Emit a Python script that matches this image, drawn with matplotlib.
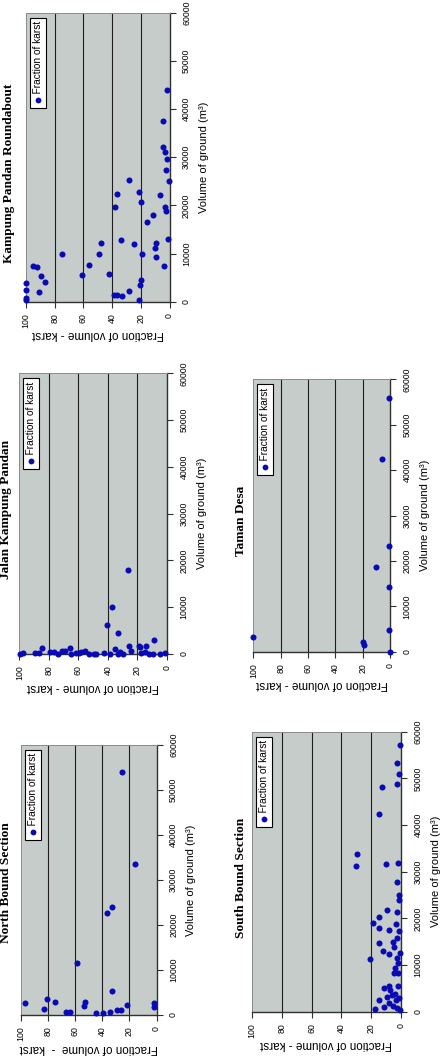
import matplotlib
matplotlib.use("Agg")
import matplotlib.pyplot as plt

# ---- data (volume of ground in m3, fraction of volume that is karst in %) ----

# Kampung Pandan Roundabout
kpr_volume = [3800, 2400, 700, 350, 7500, 7300, 5300, 2000, 4000, 9800, 5600, 7600,
              10000, 12100, 5800, 1400, 1400, 1200, 19700, 22400, 12800, 2200, 25300,
              11900, 22800, 20800, 350, 3500, 4500, 9800, 16600, 43900, 37600, 32200,
              31100, 29600, 27300, 25100, 22100, 19700, 18800, 17900, 12100, 11200,
              9300, 13100, 7400]
kpr_fraction = [100, 100, 100, 100, 94.9, 92.6, 89.5, 90.9, 86.5, 74.9, 60.9, 55.9,
                49.1, 47.7, 42.4, 38.7, 36.4, 33.1, 37.7, 36.8, 34.0, 28.0, 28.0,
                24.9, 21.0, 19.9, 21.0, 20.6, 19.6, 18.9, 15.9, 1.5, 4.3, 4.3,
                3.1, 1.5, 2.4, 0.6, 6.6, 3.1, 2.4, 11.3, 9.6, 10.1,
                9.6, 0.8, 3.8]

# Jalan Kampung Pandan
jkp_volume = [17900, 10100, 6200, 4400, 100, 200, 200, 200, 1200, 500, 500, 100, 700,
              1200, 100, 300, 500, 700, 100, 100, 100, 300, 0, 1000, 100, 100, 1700,
              700, 1700, 300, 1700, 2900, 1600, 500, 100, 100, 100, 300, 600, 200, 400]
jkp_fraction = [26.6, 37.2, 40.3, 33.4, 99.2, 97.4, 89.5, 86.8, 84.3, 78.9, 76.4, 73.7,
                71.4, 65.8, 64.7, 61.3, 57.9, 55.7, 52.7, 49.6, 47.8, 42.6, 38.8, 35.4,
                33.1, 29.7, 25.7, 24.1, 18.9, 17.4, 14.0, 9.0, 18.5, 15.1, 12.2, 9.5,
                5.0, 1.6, 69.0, 59.5, 31.5]

# Taman Desa
td_volume = [55800, 42400, 23300, 18700, 14300, 4800, 0, 2100, 1500, 3300]
td_fraction = [0.5, 5.6, 0.5, 10.5, 0.5, 0.5, 0, 19.5, 19.0, 100]

# North Bound Section
nb_volume = [53900, 33500, 24100, 22700, 11600, 5300, 2600, 3500, 3000, 1300, 3000,
             1900, 700, 700, 400, 400, 700, 1100, 1100, 2200, 2600, 1800]
nb_fraction = [25.5, 16.2, 32.8, 36.3, 58.3, 32.6, 96.6, 80.4, 75.0, 83.1, 52.7,
               53.4, 66.7, 63.7, 44.9, 39.2, 34.3, 29.4, 26.5, 22.1, 2.0, 2.0]

# South Bound Section
sb_volume = [57100, 53400, 50900, 48900, 48100, 42400, 33800, 31300, 31600, 31800,
             27900, 25000, 23900, 21800, 21300, 19100, 20200, 18000, 17500, 17400,
             18700, 15700, 13900, 14900, 14800, 13000, 11200, 12300, 12500, 11600,
             10400, 9300, 8400, 8200, 5000, 5500, 5500, 2600, 500, 1100, 1900, 3200,
             3600, 3900, 2900, 700, 400, 1200, 2500, 4600]
sb_fraction = [0.7, 2.9, 1.1, 2.9, 13.0, 14.5, 29.5, 30.4, 10.1, 2.2,
               2.9, 1.1, 1.3, 9.2, 2.5, 18.6, 15.0, 15.0, 7.8, 1.1,
               3.4, 2.5, 4.5, 5.6, 15.0, 11.9, 20.8, 7.8, 0.7, 2.9,
               1.8, 4.0, 4.5, 1.8, 11.2, 7.8, 1.8, 14.5, 17.2, 11.2, 7.8, 9.6,
               6.3, 4.0, 1.1, 2.9, 0.7, 5.1, 3.4, 7.4]

titles = ["Kampung Pandan Roundabout", "Jalan Kampung Pandan", "Taman Desa",
          "North Bound Section", "South Bound Section"]
volume_ticks = [0, 10000, 20000, 30000, 40000, 50000, 60000]
fraction_ticks = [100, 80, 60, 40, 20, 0]
legend_label = "Fraction of karst"
volume_label = "Volume of ground (m³)"
fraction_label = "Fraction of volume - karst"

# ---- layout (pixels in a 443 x 1057 canvas) ----
W, H = 443, 1057
# (left, top, right, bottom) of each plot area
panel_px = [(26, 12.7, 169.5, 301.7),
            (19.3, 373.3, 167, 654),
            (253.3, 379.3, 390, 651.7),
            (20.7, 745, 156.6, 1015),
            (252, 731.7, 401, 1011.7)]
# centre of each rotated title
title_px = [(9, 173), (6.5, 509), (241, 521), (6, 883), (240.5, 878)]

PANEL_BG = "#c5ccca"
DOT = "#0a0ab4"
SANS = ["Liberation Sans", "DejaVu Sans"]
SERIF = ["Liberation Serif", "DejaVu Serif"]

plt.rcParams["font.family"] = SANS


def px_rect(left, top, right, bottom):
    return [left / W, 1 - bottom / H, (right - left) / W, (bottom - top) / H]


"""
Draw one scatter panel, turned on its side: the karst fraction runs
along the bottom (100 on the left) and the volume runs up the right edge.
"""
def draw_panel(fig, box, volume, fraction, xlabel):
    ax = fig.add_axes(px_rect(*box))
    ax.set_facecolor(PANEL_BG)

    for f in (20, 40, 60, 80):
        ax.axvline(f, color="#1e1e1e", lw=0.8, zorder=1)

    ax.scatter(fraction, volume, s=19, color=DOT, linewidths=0, zorder=3, clip_on=False)

    ax.set_xlim(100, 0)
    ax.set_ylim(0, 60000)
    ax.set_xticks(fraction_ticks)
    ax.set_yticks(volume_ticks)
    ax.yaxis.tick_right()
    ax.yaxis.set_label_position("right")

    ax.tick_params(axis="x", labelrotation=90, length=4, width=0.8, pad=4,
                   labelsize=6.3, color="#303030")
    ax.tick_params(axis="y", labelrotation=90, length=4, width=0.8, pad=5,
                   labelsize=6.3, color="#303030")
    for lab in ax.get_yticklabels():
        lab.set_va("center")

    for side in ("left", "top"):
        ax.spines[side].set_color("#8a8a8a")
        ax.spines[side].set_linewidth(0.7)
    for side in ("bottom", "right"):
        ax.spines[side].set_color("#303030")
        ax.spines[side].set_linewidth(1.0)

    ax.set_xlabel(xlabel, rotation=180, fontsize=8.4, labelpad=0.5)
    ax.set_ylabel(volume_label, rotation=90, fontsize=8, labelpad=6)
    return ax


fig = plt.figure(figsize=(W / 100, H / 100), dpi=100)

datasets = [(kpr_volume, kpr_fraction), (jkp_volume, jkp_fraction),
            (td_volume, td_fraction), (nb_volume, nb_fraction),
            (sb_volume, sb_fraction)]

axes = []
keys = []
for i, (vol, frac) in enumerate(datasets):
    xlabel = fraction_label if i != 3 else "Fraction of volume  -  karst"
    ax = draw_panel(fig, panel_px[i], vol, frac, xlabel)
    axes.append(ax)

    # the key box sits in the top left corner of each plot area
    left, top, right, bottom = panel_px[i]
    kx = 12 / (right - left)
    ky = 1 - 8 / (bottom - top)
    t = ax.text(kx, ky, "    " + legend_label, rotation=90, transform=ax.transAxes,
                ha="center", va="top", fontsize=7.3, zorder=5,
                bbox=dict(boxstyle="square,pad=0.3", fc="white", ec="black", lw=0.8))
    keys.append(t)

    tx, ty = title_px[i]
    fig.text(tx / W, 1 - ty / H, titles[i], rotation=90, ha="center", va="center",
             fontsize=9.6, fontweight="bold", family=SERIF)

# put the marker inside each key box, below the text
fig.canvas.draw()
for ax, t in zip(axes, keys):
    bb = t.get_window_extent()
    cx = (bb.x0 + bb.x1) / 2
    cy = bb.y0 + 5
    mx, my = ax.transAxes.inverted().transform((cx, cy))
    ax.plot([mx], [my], "o", ms=4.2, color=DOT, mec="none", transform=ax.transAxes,
            zorder=6, clip_on=False)

fig.savefig("out.png", dpi=100)
